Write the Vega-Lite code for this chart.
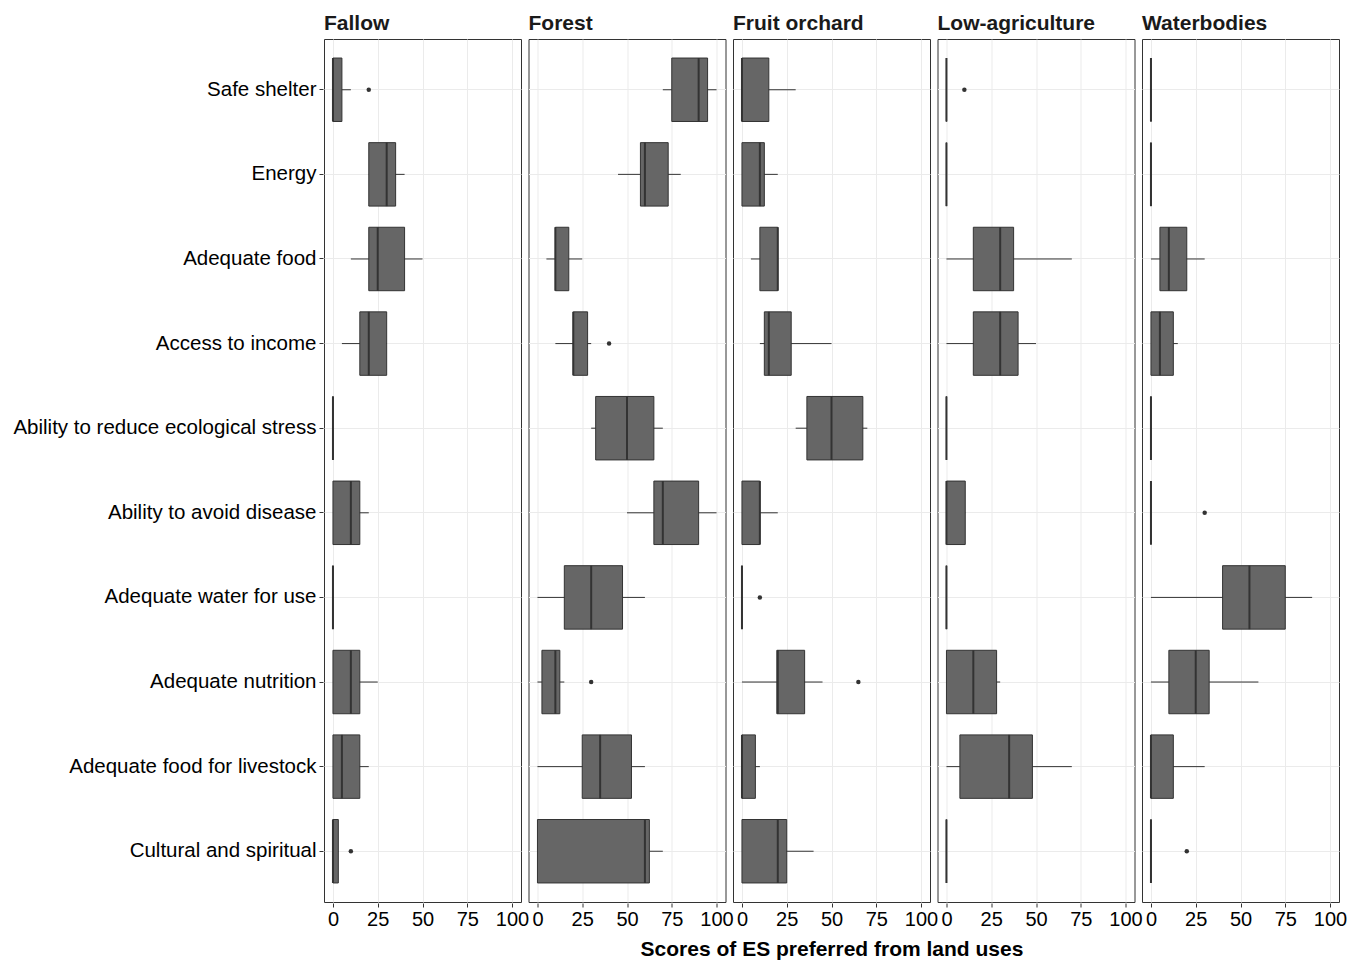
{
  "$schema": "https://vega.github.io/schema/vega-lite/v6.json",
  "background": "white",
  "padding": {"left": 12, "top": 13, "right": 5, "bottom": 5},
  "config": {
    "font": "Liberation Sans",
    "view": {"stroke": "#333333", "strokeWidth": 1},
    "axis": {"domain": false, "labelColor": "#000000", "labelFontSize": 20, "labelFont": "Liberation Sans", "labelLimit": 500, "tickColor": "#333333", "tickSize": 4, "gridColor": "#ebebeb"}
  },
  "data": {"values": [
    {"landuse": "Fallow", "es": "Safe shelter", "min": 0, "q1": 0, "median": 0, "q3": 5, "max": 10, "outlier": 20},
    {"landuse": "Fallow", "es": "Energy", "min": 20, "q1": 20, "median": 30, "q3": 35, "max": 40, "outlier": null},
    {"landuse": "Fallow", "es": "Adequate food", "min": 10, "q1": 20, "median": 25, "q3": 40, "max": 50, "outlier": null},
    {"landuse": "Fallow", "es": "Access to income", "min": 5, "q1": 15, "median": 20, "q3": 30, "max": 30, "outlier": null},
    {"landuse": "Fallow", "es": "Ability to reduce ecological stress", "min": 0, "q1": 0, "median": 0, "q3": 0, "max": 0, "outlier": null},
    {"landuse": "Fallow", "es": "Ability to avoid disease", "min": 0, "q1": 0, "median": 10, "q3": 15, "max": 20, "outlier": null},
    {"landuse": "Fallow", "es": "Adequate water for use", "min": 0, "q1": 0, "median": 0, "q3": 0, "max": 0, "outlier": null},
    {"landuse": "Fallow", "es": "Adequate nutrition", "min": 0, "q1": 0, "median": 10, "q3": 15, "max": 25, "outlier": null},
    {"landuse": "Fallow", "es": "Adequate food for livestock", "min": 0, "q1": 0, "median": 5, "q3": 15, "max": 20, "outlier": null},
    {"landuse": "Fallow", "es": "Cultural and spiritual", "min": 0, "q1": 0, "median": 0, "q3": 3, "max": 3, "outlier": 10},

    {"landuse": "Forest", "es": "Safe shelter", "min": 70, "q1": 75, "median": 90, "q3": 95, "max": 100, "outlier": null},
    {"landuse": "Forest", "es": "Energy", "min": 45, "q1": 57.5, "median": 60, "q3": 73, "max": 80, "outlier": null},
    {"landuse": "Forest", "es": "Adequate food", "min": 5, "q1": 10, "median": 10, "q3": 17.5, "max": 25, "outlier": null},
    {"landuse": "Forest", "es": "Access to income", "min": 10, "q1": 20, "median": 20, "q3": 28, "max": 30, "outlier": 40},
    {"landuse": "Forest", "es": "Ability to reduce ecological stress", "min": 30, "q1": 32.5, "median": 50, "q3": 65, "max": 70, "outlier": null},
    {"landuse": "Forest", "es": "Ability to avoid disease", "min": 50, "q1": 65, "median": 70, "q3": 90, "max": 100, "outlier": null},
    {"landuse": "Forest", "es": "Adequate water for use", "min": 0, "q1": 15, "median": 30, "q3": 47.5, "max": 60, "outlier": null},
    {"landuse": "Forest", "es": "Adequate nutrition", "min": 0, "q1": 2.5, "median": 10, "q3": 12.5, "max": 15, "outlier": 30},
    {"landuse": "Forest", "es": "Adequate food for livestock", "min": 0, "q1": 25, "median": 35, "q3": 52.5, "max": 60, "outlier": null},
    {"landuse": "Forest", "es": "Cultural and spiritual", "min": 0, "q1": 0, "median": 60, "q3": 62.5, "max": 70, "outlier": null},

    {"landuse": "Fruit orchard", "es": "Safe shelter", "min": 0, "q1": 0, "median": 0, "q3": 15, "max": 30, "outlier": null},
    {"landuse": "Fruit orchard", "es": "Energy", "min": 0, "q1": 0, "median": 10, "q3": 12.5, "max": 20, "outlier": null},
    {"landuse": "Fruit orchard", "es": "Adequate food", "min": 5, "q1": 10, "median": 20, "q3": 20, "max": 20, "outlier": null},
    {"landuse": "Fruit orchard", "es": "Access to income", "min": 10, "q1": 12.5, "median": 15, "q3": 27.5, "max": 50, "outlier": null},
    {"landuse": "Fruit orchard", "es": "Ability to reduce ecological stress", "min": 30, "q1": 36.25, "median": 50, "q3": 67.5, "max": 70, "outlier": null},
    {"landuse": "Fruit orchard", "es": "Ability to avoid disease", "min": 0, "q1": 0, "median": 10, "q3": 10, "max": 20, "outlier": null},
    {"landuse": "Fruit orchard", "es": "Adequate water for use", "min": 0, "q1": 0, "median": 0, "q3": 0, "max": 0, "outlier": 10},
    {"landuse": "Fruit orchard", "es": "Adequate nutrition", "min": 0, "q1": 19.5, "median": 20, "q3": 35, "max": 45, "outlier": 65},
    {"landuse": "Fruit orchard", "es": "Adequate food for livestock", "min": 0, "q1": 0, "median": 0, "q3": 7.5, "max": 10, "outlier": null},
    {"landuse": "Fruit orchard", "es": "Cultural and spiritual", "min": 0, "q1": 0, "median": 20, "q3": 25, "max": 40, "outlier": null},

    {"landuse": "Low-agriculture", "es": "Safe shelter", "min": 0, "q1": 0, "median": 0, "q3": 0, "max": 0, "outlier": 10},
    {"landuse": "Low-agriculture", "es": "Energy", "min": 0, "q1": 0, "median": 0, "q3": 0, "max": 0, "outlier": null},
    {"landuse": "Low-agriculture", "es": "Adequate food", "min": 0, "q1": 15, "median": 30, "q3": 37.5, "max": 70, "outlier": null},
    {"landuse": "Low-agriculture", "es": "Access to income", "min": 0, "q1": 15, "median": 30, "q3": 40, "max": 50, "outlier": null},
    {"landuse": "Low-agriculture", "es": "Ability to reduce ecological stress", "min": 0, "q1": 0, "median": 0, "q3": 0, "max": 0, "outlier": null},
    {"landuse": "Low-agriculture", "es": "Ability to avoid disease", "min": 0, "q1": 0, "median": 0, "q3": 10.5, "max": 10.5, "outlier": null},
    {"landuse": "Low-agriculture", "es": "Adequate water for use", "min": 0, "q1": 0, "median": 0, "q3": 0, "max": 0, "outlier": null},
    {"landuse": "Low-agriculture", "es": "Adequate nutrition", "min": 0, "q1": 0, "median": 15, "q3": 28, "max": 30, "outlier": null},
    {"landuse": "Low-agriculture", "es": "Adequate food for livestock", "min": 0, "q1": 7.5, "median": 35, "q3": 48, "max": 70, "outlier": null},
    {"landuse": "Low-agriculture", "es": "Cultural and spiritual", "min": 0, "q1": 0, "median": 0, "q3": 0, "max": 0, "outlier": null},

    {"landuse": "Waterbodies", "es": "Safe shelter", "min": 0, "q1": 0, "median": 0, "q3": 0, "max": 0, "outlier": null},
    {"landuse": "Waterbodies", "es": "Energy", "min": 0, "q1": 0, "median": 0, "q3": 0, "max": 0, "outlier": null},
    {"landuse": "Waterbodies", "es": "Adequate food", "min": 0, "q1": 5, "median": 10, "q3": 20, "max": 30, "outlier": null},
    {"landuse": "Waterbodies", "es": "Access to income", "min": 0, "q1": 0, "median": 5, "q3": 12.5, "max": 15, "outlier": null},
    {"landuse": "Waterbodies", "es": "Ability to reduce ecological stress", "min": 0, "q1": 0, "median": 0, "q3": 0, "max": 0, "outlier": null},
    {"landuse": "Waterbodies", "es": "Ability to avoid disease", "min": 0, "q1": 0, "median": 0, "q3": 0, "max": 0, "outlier": 30},
    {"landuse": "Waterbodies", "es": "Adequate water for use", "min": 0, "q1": 40, "median": 55, "q3": 75, "max": 90, "outlier": null},
    {"landuse": "Waterbodies", "es": "Adequate nutrition", "min": 0, "q1": 10, "median": 25, "q3": 32.5, "max": 60, "outlier": null},
    {"landuse": "Waterbodies", "es": "Adequate food for livestock", "min": 0, "q1": 0, "median": 0, "q3": 12.5, "max": 30, "outlier": null},
    {"landuse": "Waterbodies", "es": "Cultural and spiritual", "min": 0, "q1": 0, "median": 0, "q3": 0, "max": 0, "outlier": 20}
  ]},
  "facet": {
    "column": {
      "field": "landuse", "type": "nominal",
      "sort": ["Fallow", "Forest", "Fruit orchard", "Low-agriculture", "Waterbodies"],
      "title": "Scores of ES preferred from land uses",
      "header": {
        "labelOrient": "top", "labelAnchor": "start", "labelAlign": "left",
        "labelFont": "Liberation Sans", "labelFontSize": 21, "labelFontWeight": "bold", "labelColor": "#1a1a1a", "labelPadding": 4,
        "titleOrient": "bottom", "titleFont": "Liberation Sans", "titleFontSize": 21, "titleFontWeight": "bold", "titleColor": "#000000", "titlePadding": 0
      }
    }
  },
  "spacing": 5.5,
  "resolve": {"scale": {"x": "shared", "y": "shared"}},
  "spec": {
    "width": 197,
    "height": 863,
    "encoding": {
      "y": {
        "field": "es", "type": "nominal", "title": null,
        "sort": ["Safe shelter", "Energy", "Adequate food", "Access to income", "Ability to reduce ecological stress", "Ability to avoid disease", "Adequate water for use", "Adequate nutrition", "Adequate food for livestock", "Cultural and spiritual"],
        "scale": {"paddingInner": 0.25, "paddingOuter": 0.225},
        "axis": {"grid": true, "gridColor": "#ebebeb", "gridWidth": 1, "labelPadding": 3, "labelLimit": 500, "labelFontSize": 20.5, "ticks": true}
      }
    },
    "layer": [
      {
        "mark": {"type": "rule", "color": "#333333", "strokeWidth": 1},
        "encoding": {
          "x": {"field": "min", "type": "quantitative", "title": null,
            "scale": {"domain": [-5, 105], "nice": false, "zero": false},
            "axis": {
              "values": [0, 12.5, 25, 37.5, 50, 62.5, 75, 87.5, 100],
              "labelExpr": "datum.value % 25 === 0 ? datum.label : ''",
              "labelOverlap": false, "labelFlush": false, "labelBound": false, "labelPadding": 2,
              "grid": true,
              "gridColor": "#ebebeb",
              "gridWidth": {"condition": {"test": "datum.value % 25 === 0", "value": 1}, "value": 0.7},
              "tickOpacity": {"condition": {"test": "datum.value % 25 === 0", "value": 1}, "value": 0}
            }
          },
          "x2": {"field": "max"}
        }
      },
      {
        "mark": {"type": "bar", "fill": "#666666", "stroke": "#333333", "strokeWidth": 1},
        "encoding": {
          "x": {"field": "q1", "type": "quantitative"},
          "x2": {"field": "q3"}
        }
      },
      {
        "mark": {"type": "tick", "color": "#333333", "size": 63.5, "thickness": 2, "opacity": 1},
        "encoding": {
          "x": {"field": "median", "type": "quantitative"}
        }
      },
      {
        "transform": [{"filter": "datum.outlier != null"}],
        "mark": {"type": "point", "filled": true, "color": "#333333", "size": 20, "opacity": 1},
        "encoding": {
          "x": {"field": "outlier", "type": "quantitative"}
        }
      }
    ]
  }
}
